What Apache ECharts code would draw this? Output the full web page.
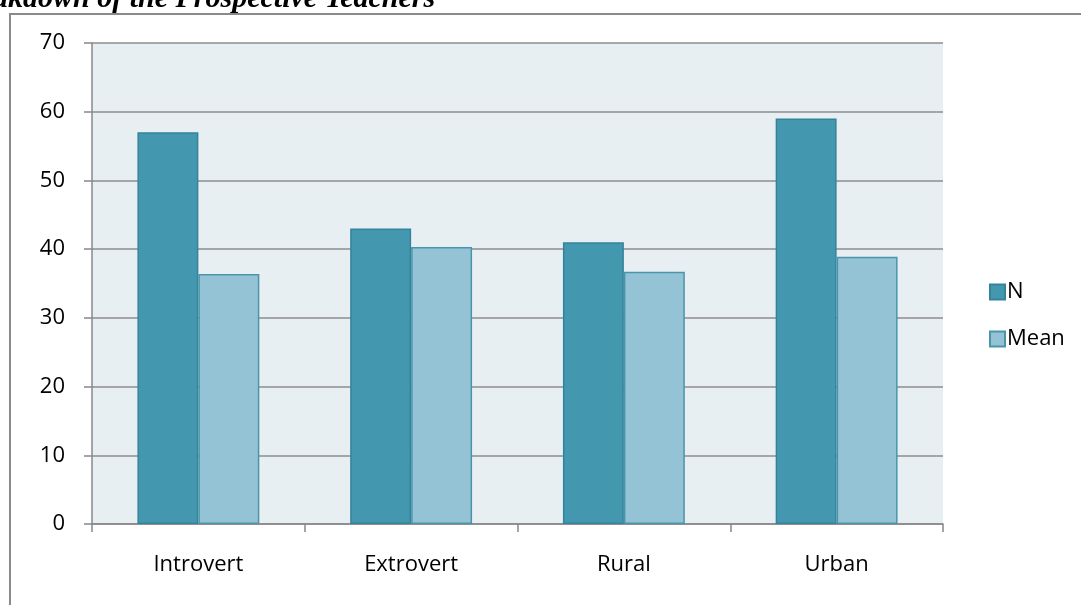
<!DOCTYPE html>
<html>
<head>
<meta charset="utf-8">
<script src="https://cdn.jsdelivr.net/npm/echarts@6/dist/echarts.min.js"></script>
<style>
  html, body { margin: 0; padding: 0; background: #fff; }
  #chart { width: 1081px; height: 605px; }
</style>
</head>
<body>
<div id="chart"></div>
<script>
const categories = ["Introvert", "Extrovert", "Rural", "Urban"];
const nValues = [57, 43, 41, 59];
const meanValues = [36.4, 40.3, 36.7, 38.9];
const yTicks = { min: 0, max: 70, interval: 10 };

const chart = echarts.init(document.getElementById("chart"));
const font = "'Open Sans', 'Liberation Sans', sans-serif";

chart.setOption({
  animation: false,
  backgroundColor: "#fff",
  graphic: [
    {
      type: "rect",
      shape: { x: 10, y: 14, width: 1100, height: 640 },
      style: { fill: "none", stroke: "#8a8a8a", lineWidth: 2 },
      z: 10
    },
    {
      type: "text",
      x: -52,
      y: 14,
      style: {
        text: "Breakdown of the Prospective Teachers",
        font: "italic bold 30px 'Liberation Serif', serif",
        fill: "#000",
        verticalAlign: "bottom"
      }
    }
  ],
  legend: {
    orient: "vertical",
    left: 984,
    top: 276,
    itemWidth: 15,
    itemHeight: 15,
    itemGap: 25,
    icon: "rect",
    textStyle: { fontFamily: font, fontSize: 22, color: "#000", padding: [0, 0, 0, -3] },
    data: ["N", "Mean"]
  },
  grid: {
    left: 92,
    top: 43,
    right: 138,
    bottom: 81,
    show: true,
    backgroundColor: "#E8EFF3",
    borderWidth: 0
  },
  xAxis: {
    type: "category",
    data: categories,
    axisLine: { lineStyle: { color: "#888", width: 1.5 } },
    axisTick: { show: true, length: 8, lineStyle: { color: "#888", width: 1.5 } },
    axisLabel: { fontFamily: font, fontSize: 22, color: "#000", margin: 30 }
  },
  yAxis: {
    type: "value",
    min: yTicks.min,
    max: yTicks.max,
    interval: yTicks.interval,
    axisLine: { show: true, lineStyle: { color: "#888", width: 1.5 } },
    axisTick: { show: true, length: 8, lineStyle: { color: "#888", width: 1.5 } },
    splitLine: { lineStyle: { color: "#8c8c8c", width: 1.5 } },
    axisLabel: { fontFamily: font, fontSize: 22, color: "#000", margin: 27 }
  },
  series: [
    {
      name: "N",
      type: "bar",
      data: nValues,
      barGap: "0%",
      barCategoryGap: "42.7%",
      itemStyle: { color: "#4398B0", borderColor: "#35839A", borderWidth: 1.5 }
    },
    {
      name: "Mean",
      type: "bar",
      data: meanValues,
      itemStyle: { color: "#93C3D4", borderColor: "#4A95AA", borderWidth: 1.5 }
    }
  ]
});
</script>
</body>
</html>
